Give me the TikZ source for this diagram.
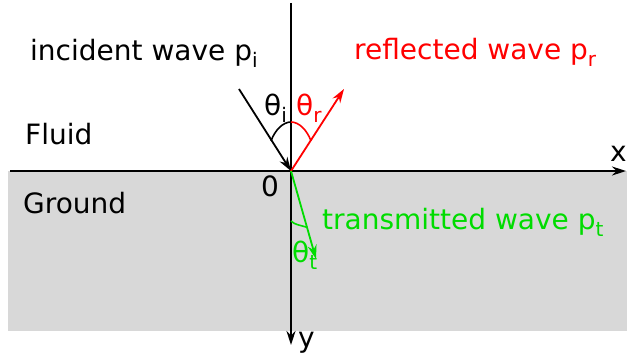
\documentclass[tikz,border=0pt]{standalone}
\usepackage{fontspec}
\setmainfont{DejaVu Sans}
\usetikzlibrary{arrows.meta,calc}
\definecolor{groundgray}{RGB}{216,216,216}
\definecolor{tgreen}{RGB}{0,220,0}
\newcommand{\mysub}[1]{\raisebox{-0.25em}{\fontsize{20}{20}\selectfont #1}}
\tikzset{
  lbl/.style={anchor=base west, inner sep=0pt, font=\fontsize{28}{32}\selectfont},
  axisline/.style={line width=1.8pt, -{Stealth[length=14pt,width=9pt]}},
  wave/.style={line width=1.8pt, -{Stealth[length=14pt,width=9pt]}},
  anglearc/.style={line width=1.6pt}
}
\begin{document}
\begin{tikzpicture}[x=1pt,y=-1pt]
\useasboundingbox (0,0) rectangle (627,358);
% ground
\fill[groundgray] (8,171) rectangle (627,331);
% coordinates
\coordinate (O) at (291,171);
\coordinate (xs) at (10,171);
\coordinate (xe) at (626,171);
\coordinate (ys) at (291,3);
\coordinate (ye) at (291,345);
\coordinate (inc) at (239,89);
\coordinate (refl) at (344,89);
\coordinate (tr) at (316,259);
% axes
\draw[axisline] (xs) -- (xe);
\draw[axisline] (ys) -- (ye);
% waves
\draw[wave, black] (inc) -- (O);
\draw[wave, red] (O) -- (refl);
\draw[wave, tgreen] (O) -- (tr);
% angle arcs
\coordinate (ai1) at (271,141);
\coordinate (ai2) at (291,122);
\coordinate (ar2) at (311,141);
\coordinate (at1) at (291,221);
\coordinate (at2) at (307.5,227.5);
\draw[anglearc, black] (ai1) .. controls (275,130) and (283,122) .. (ai2);
\draw[anglearc, red] (ai2) .. controls (299,122) and (307,130) .. (ar2);
\draw[anglearc, tgreen] (at1) .. controls (295,225) and (300,225) .. (at2);
% labels
\node[lbl] (tinc) at (30,61) {incident wave p\mysub{i}};
\node[lbl, text=red] (trefl) at (354,60) {reflected wave p\mysub{r}};
\node[lbl, text=tgreen] (ttr) at (322,230) {transmitted wave p\mysub{t}};
\node[lbl] (tfluid) at (25,145) {Fluid};
\node[lbl] (tground) at (23,214) {Ground};
\node[lbl] (thi) at (264,116) {θ\mysub{i}};
\node[lbl, text=red] (thr) at (296,116) {θ\mysub{r}};
\node[lbl, text=tgreen] (tht) at (292,263) {θ\mysub{t}};
\node[lbl] (tzero) at (261,197) {0};
\node[lbl] (tx) at (610,162) {x};
\node[lbl] (ty) at (298,348) {y};
\end{tikzpicture}
\end{document}
